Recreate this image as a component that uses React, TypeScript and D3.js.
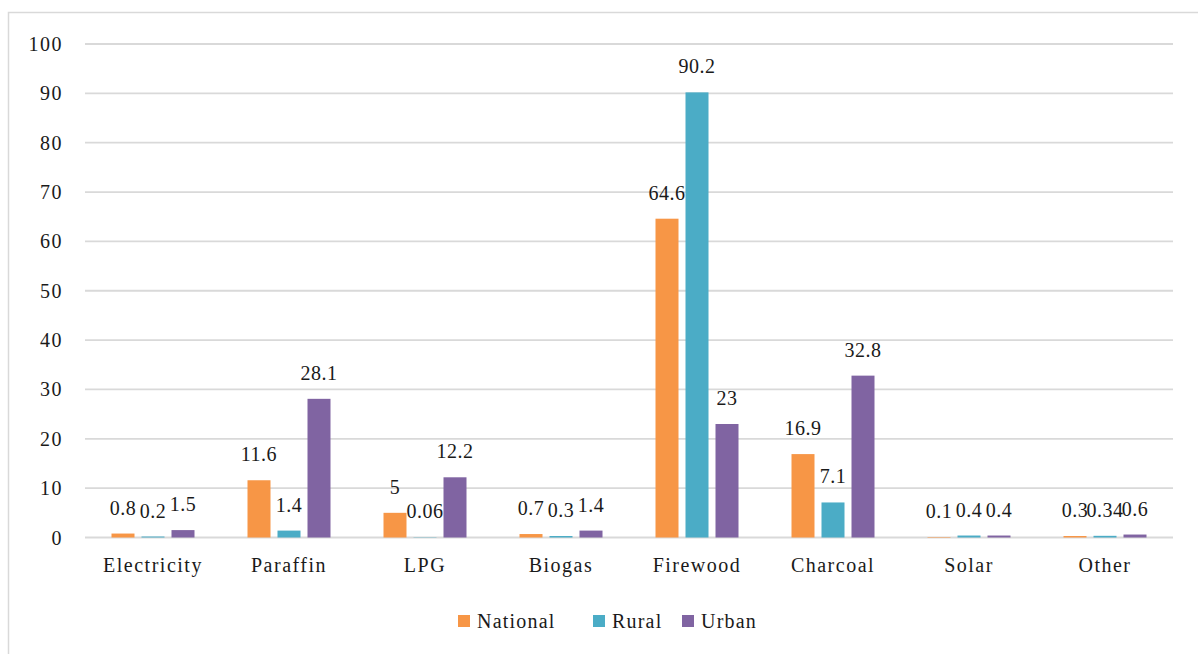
import React from "react";
import * as d3 from "d3";

const categories = ["Electricity", "Paraffin", "LPG", "Biogas", "Firewood", "Charcoal", "Solar", "Other"];
const seriesNames = ["National", "Rural", "Urban"];
const national = [0.8, 11.6, 5, 0.7, 64.6, 16.9, 0.1, 0.3];
const rural = [0.2, 1.4, 0.06, 0.3, 90.2, 7.1, 0.4, 0.34];
const urban = [1.5, 28.1, 12.2, 1.4, 23, 32.8, 0.4, 0.6];
const yTicks = [0, 10, 20, 30, 40, 50, 60, 70, 80, 90, 100];
const colors = ["#F79646", "#4BACC6", "#8064A2"];

const W = 1198;
const H = 654;
const FONT = "Liberation Serif, Times New Roman, DejaVu Serif, serif";
const TEXT = "#1a1a1a";

export default function App() {
  const series = [national, rural, urban];
  const x = d3.scaleBand<string>().domain(categories).range([85, 1173]).paddingInner(0).paddingOuter(0);
  const y = d3.scaleLinear().domain([0, 100]).range([537.5, 44]);
  const barW = 23;
  const step = 30;

  return (
    <svg width={W} height={H} style={{ position: "absolute", left: 0, top: 0, background: "#fff", fontFamily: FONT }}>
      <rect x={8.5} y={12.5} width={W + 10} height={H + 10} fill="#fff" stroke="#d9d9d9" strokeWidth={1.5} />
      {yTicks.map((t) => (
        <g key={t}>
          <line x1={85} x2={1173} y1={y(t)} y2={y(t)} stroke="#d9d9d9" strokeWidth={1.8} />
          <text x={63} y={y(t) + 7} textAnchor="end" style={{ fontFamily: FONT }} fontSize={20} letterSpacing={1.5} fill={TEXT}>
            {t}
          </text>
        </g>
      ))}
      {categories.map((c, i) => {
        const cx = (x(c) as number) + x.bandwidth() / 2;
        return (
          <g key={c}>
            {series.map((s, j) => {
              const bx = cx + (j - 1) * step - barW / 2;
              const top = y(s[i]);
              return (
                <g key={j}>
                  <rect x={bx} y={top} width={barW} height={y(0) - top} fill={colors[j]} />
                  <text
                    x={bx + barW / 2}
                    y={top - 19}
                    textAnchor="middle"
                    style={{ fontFamily: FONT }}
                    fontSize={20}
                    letterSpacing={0.5}
                    fill={TEXT}
                  >
                    {s[i]}
                  </text>
                </g>
              );
            })}
            <text x={cx} y={572} textAnchor="middle" style={{ fontFamily: FONT }} fontSize={20} letterSpacing={1.5} fill={TEXT}>
              {c}
            </text>
          </g>
        );
      })}
      {seriesNames.map((n, j) => {
        const lx = [458, 593, 682][j];
        return (
          <g key={n}>
            <rect x={lx} y={615} width={12} height={12} fill={colors[j]} />
            <text x={lx + 19} y={628} style={{ fontFamily: FONT }} fontSize={20} letterSpacing={1.2} fill={TEXT}>
              {n}
            </text>
          </g>
        );
      })}
    </svg>
  );
}
